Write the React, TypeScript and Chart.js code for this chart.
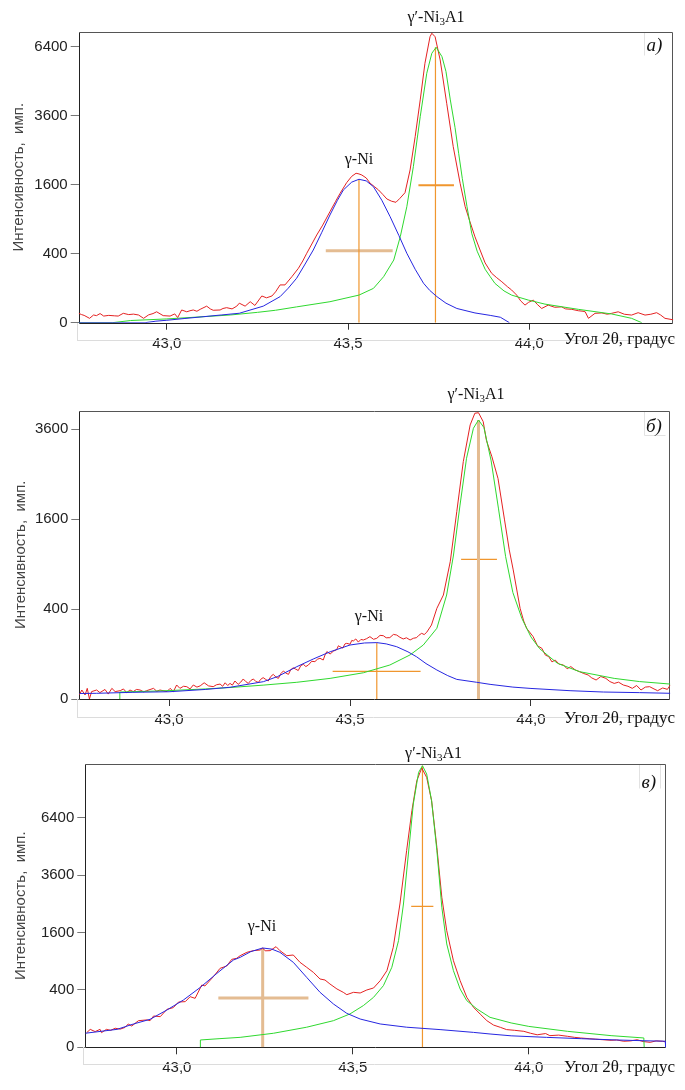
import React, { useEffect, useRef } from "react";
import { Chart, registerables } from "chart.js";

Chart.register(...registerables);

type Pt = [number, number];

// ---------- shared tick labels ----------
const xTickVals = [43.0, 43.5, 44.0];
const yTicksA = [0, 400, 1600, 3600, 6400];
const yTicksB = [0, 400, 1600, 3600];
const yTicksC = [0, 400, 1600, 3600, 6400];

const yTitle = "Интенсивность,  имп.";
const xTitle = "Угол 2θ, градус";
const peakNames = ["γ-Ni", "γ′-Ni"];

// ---------- panel а) ----------
const aRed: Pt[] = [
  [42.757, 7.4], [42.765, 5.5], [42.772, 4.5], [42.787, 1.6], [42.798, 5], [42.806, 4.2], [42.816, 7],
  [42.826, 3.7], [42.84, 4.5], [42.855, 4], [42.866, 3.7], [42.88, 7.4], [42.895, 5.5], [42.908, 6.2],
  [42.922, 5], [42.936, 1.6], [42.95, 5.2], [42.962, 7], [42.972, 10], [42.99, 4.2], [43.009, 3.7],
  [43.022, 6.5], [43.03, 2.2], [43.041, 13.6], [43.055, 10], [43.064, 12], [43.073, 13.6], [43.083, 11],
  [43.092, 15], [43.11, 23], [43.12, 16], [43.128, 13], [43.147, 13.6], [43.155, 17], [43.165, 19],
  [43.18, 16], [43.193, 23], [43.2, 32], [43.216, 23], [43.23, 37], [43.243, 25], [43.262, 60],
  [43.275, 52], [43.29, 60], [43.3, 80], [43.3125, 120], [43.326, 120], [43.345, 178], [43.363, 249],
  [43.375, 320], [43.386, 405], [43.4, 520], [43.4135, 646], [43.43, 800], [43.45, 1036], [43.465, 1230],
  [43.478, 1407], [43.496, 1647], [43.51, 1800], [43.522, 1876], [43.53, 1860], [43.538, 1832],
  [43.55, 1760], [43.561, 1633], [43.572, 1560], [43.584, 1480], [43.596, 1380], [43.607, 1286],
  [43.62, 1240], [43.632, 1218], [43.643, 1300], [43.657, 1420], [43.671, 1960], [43.685, 2908],
  [43.699, 4170], [43.712, 5655], [43.726, 6873], [43.731, 7040], [43.74, 6870], [43.754, 5800],
  [43.772, 4045], [43.79, 2605], [43.809, 1633], [43.823, 1130], [43.836, 860], [43.85, 620],
  [43.864, 444], [43.878, 300], [43.896, 205], [43.91, 170], [43.924, 141], [43.94, 108], [43.951, 90],
  [43.965, 64], [43.976, 40], [43.988, 26], [43.998, 35], [44.011, 43], [44.022, 28], [44.034, 17],
  [44.052, 26], [44.07, 20], [44.089, 21], [44.1, 16], [44.117, 15], [44.135, 12], [44.148, 11],
  [44.154, 10], [44.163, 1.6], [44.181, 7.4], [44.2, 8], [44.215, 6], [44.227, 7.4], [44.245, 10],
  [44.262, 6], [44.282, 4.9], [44.3, 8.4], [44.319, 4.9], [44.335, 6], [44.351, 8.4], [44.362, 5],
  [44.374, 1.6], [44.397, 0.7],
];
const aBlue: Pt[] = [
  [42.757, 0], [42.94, 0], [42.97, 0.2], [43.0, 0.5], [43.05, 1.5], [43.1, 3], [43.15, 5], [43.2, 7.5],
  [43.266, 23], [43.3125, 57], [43.335, 100], [43.358, 166], [43.38, 280], [43.404, 444], [43.427, 680],
  [43.45, 975], [43.47, 1250], [43.487, 1480], [43.51, 1660], [43.53, 1728], [43.55, 1690], [43.57, 1554],
  [43.593, 1260], [43.616, 944], [43.64, 640], [43.662, 405], [43.685, 240], [43.708, 131], [43.725, 88],
  [43.745, 57], [43.77, 32], [43.8, 17], [43.85, 8], [43.892, 4.5], [43.92, 2.5], [43.945, 0],
];
const aGreen: Pt[] = [
  [42.757, 0], [42.85, 0], [42.9, 0.4], [43.0, 1.2], [43.1, 3], [43.175, 5], [43.25, 9], [43.3, 13],
  [43.358, 21], [43.45, 37], [43.53, 64], [43.57, 99], [43.598, 178], [43.626, 330], [43.644, 622],
  [43.662, 1130], [43.68, 2045], [43.699, 3566], [43.717, 5227], [43.731, 6100], [43.743, 6373],
  [43.759, 5945], [43.77, 5300], [43.782, 4170], [43.795, 3200], [43.805, 2411], [43.815, 1750],
  [43.828, 1130], [43.841, 672], [43.856, 430], [43.878, 240], [43.892, 178], [43.905, 130], [43.93, 85],
  [43.951, 64], [43.997, 43], [44.043, 29], [44.135, 15], [44.227, 6.4], [44.282, 1.6], [44.31, 0],
];
const aPeakX = [43.53, 43.741];
const aPeakY = [1728, 6373];
const aHalfY = [436, 1590];
const aHalfFrom = [43.4385, 43.694];
const aHalfTo = [43.623, 43.792];

// ---------- panel б) ----------
const bRed: Pt[] = [
  [42.752, 0.8], [42.759, 4], [42.768, 0.8], [42.774, 5.6], [42.78, 0], [42.786, 2.7], [42.8, 4],
  [42.809, 2], [42.823, 4.5], [42.832, 1.2], [42.842, 5.6], [42.851, 2.7], [42.865, 3.4], [42.874, 5],
  [42.883, 2], [42.892, 4], [42.901, 2.7], [42.91, 4.5], [42.92, 4], [42.93, 2.5], [42.938, 3.4],
  [42.957, 5.6], [42.966, 3], [42.975, 4], [42.994, 2.7], [43.003, 5.6], [43.012, 2.7], [43.021, 9.7],
  [43.03, 5.6], [43.04, 8], [43.049, 7.5], [43.058, 5], [43.067, 9.7], [43.077, 7], [43.086, 8.5],
  [43.097, 13], [43.109, 8.5], [43.122, 7.5], [43.131, 10], [43.141, 11], [43.148, 8], [43.155, 13],
  [43.162, 9], [43.1685, 12], [43.175, 9.5], [43.182, 16], [43.191, 10.6], [43.198, 14], [43.205, 19.8],
  [43.212, 15], [43.219, 12], [43.226, 17], [43.233, 19.8], [43.24, 15], [43.247, 13.7], [43.253, 19],
  [43.26, 22.5], [43.267, 19], [43.274, 16], [43.281, 25], [43.288, 30], [43.295, 24], [43.302, 21],
  [43.309, 32], [43.316, 38.7], [43.323, 33], [43.33, 30], [43.336, 42], [43.343, 48], [43.35, 44],
  [43.357, 40], [43.364, 55], [43.371, 59.4], [43.378, 52], [43.385, 57], [43.394, 70], [43.403, 69],
  [43.41, 78], [43.417, 82], [43.426, 75], [43.431, 96], [43.436, 111], [43.445, 100], [43.454, 113],
  [43.463, 120], [43.468, 140], [43.472, 135], [43.48, 128], [43.486, 150], [43.491, 153], [43.5, 148],
  [43.505, 170], [43.509, 166], [43.516, 178], [43.523, 160], [43.53, 175], [43.537, 172], [43.546, 180],
  [43.555, 192], [43.565, 176], [43.574, 182], [43.583, 200], [43.592, 198], [43.6, 185], [43.61, 186],
  [43.62, 206], [43.629, 202], [43.638, 188], [43.647, 178], [43.656, 185], [43.666, 172], [43.675, 182],
  [43.684, 186], [43.69, 200], [43.698, 213], [43.705, 205], [43.712, 220], [43.725, 270], [43.74, 406],
  [43.758, 534], [43.777, 932], [43.795, 1733], [43.813, 2783], [43.832, 3710], [43.845, 4033],
  [43.855, 4048], [43.868, 3800], [43.877, 3300], [43.892, 2900], [43.909, 2400], [43.927, 1584],
  [43.94, 1100], [43.951, 823], [43.97, 406], [43.98, 300], [43.988, 247], [44.006, 192], [44.018, 140],
  [44.03, 127], [44.04, 95], [44.049, 89], [44.058, 68], [44.067, 75], [44.078, 60], [44.09, 57],
  [44.1, 45], [44.11, 52], [44.122, 42], [44.134, 37], [44.146, 32], [44.158, 28.5], [44.168, 22],
  [44.18, 17.8], [44.193, 25], [44.207, 21], [44.218, 15], [44.23, 12], [44.242, 14], [44.255, 9.7],
  [44.268, 8], [44.28, 5.6], [44.292, 9], [44.304, 4], [44.316, 7], [44.328, 7.5], [44.34, 5],
  [44.35, 3.4], [44.364, 6], [44.377, 4.6], [44.385, 9.7],
];
const bBlue: Pt[] = [
  [42.752, 1.5], [42.8, 1.6], [42.9, 2.2], [43.0, 2.6], [43.1, 4.5], [43.1685, 6.8], [43.2605, 14.8],
  [43.3, 25], [43.353, 51.6], [43.4, 80], [43.445, 110], [43.5, 144], [43.54, 155], [43.574, 157],
  [43.6, 150], [43.629, 135], [43.66, 110], [43.684, 88], [43.71, 62], [43.74, 41.5], [43.77, 27],
  [43.795, 19], [43.85, 13.8], [43.887, 10.6], [43.95, 7], [44.0, 5.5], [44.108, 3.4], [44.2, 2.4],
  [44.3, 2], [44.385, 1.6],
];
const bGreen: Pt[] = [
  [42.863, 0], [42.864, 2.4], [42.95, 3], [43.0, 3.5], [43.1, 5], [43.1685, 6.5], [43.26, 9.5],
  [43.353, 13.8], [43.445, 21], [43.537, 34], [43.61, 57], [43.666, 96], [43.7025, 144], [43.74, 247],
  [43.767, 534], [43.786, 1024], [43.804, 1858], [43.822, 2862], [43.841, 3620], [43.855, 3844],
  [43.87, 3640], [43.89, 2800], [43.91, 1800], [43.93, 1000], [43.95, 560], [43.975, 320], [44.0, 190],
  [44.024, 125], [44.073, 63], [44.134, 37], [44.23, 21], [44.3, 15], [44.385, 11],
];
const bPeakX = [43.574, 43.855];
const bPeakY = [157, 3844];
const bHalfY = [37.9, 963];
const bHalfFrom = [43.452, 43.807];
const bHalfTo = [43.695, 43.906];

// ---------- panel в) ----------
const cRed: Pt[] = [
  [42.744, 26], [42.754, 39], [42.768, 30], [42.782, 39], [42.786, 26], [42.8, 39], [42.812, 35],
  [42.825, 44], [42.839, 40], [42.853, 48], [42.862, 66], [42.872, 55], [42.891, 86], [42.915, 91],
  [42.924, 86], [42.934, 119], [42.953, 114], [42.972, 175], [42.99, 191], [43.005, 249], [43.024, 253],
  [43.038, 311], [43.052, 291], [43.071, 471], [43.08, 457], [43.104, 606], [43.123, 757], [43.142, 802],
  [43.156, 939], [43.17, 961], [43.18, 1019], [43.199, 1095], [43.218, 1134], [43.237, 1149],
  [43.244, 1197], [43.251, 1130], [43.265, 1134], [43.282, 1229], [43.293, 1134], [43.3125, 1019],
  [43.331, 1034], [43.35, 877], [43.369, 777], [43.388, 682], [43.407, 566], [43.421, 550], [43.435, 487],
  [43.455, 413], [43.473, 367], [43.483, 336], [43.502, 367], [43.521, 358], [43.54, 399], [43.559, 427],
  [43.578, 539], [43.597, 713], [43.615, 1213], [43.634, 2492], [43.653, 4692], [43.668, 6795],
  [43.682, 8630], [43.696, 9467], [43.71, 8840], [43.724, 7380], [43.739, 4852], [43.753, 2730],
  [43.767, 1650], [43.786, 910], [43.805, 539], [43.824, 303], [43.843, 194], [43.862, 134], [43.881, 86],
  [43.9, 60], [43.92, 48], [43.937, 38], [43.96, 35], [43.986, 31], [44.005, 24], [44.024, 19],
  [44.048, 23], [44.06, 16.5], [44.085, 18], [44.11, 14.7], [44.13, 12], [44.147, 10.6], [44.172, 9],
  [44.19, 8], [44.21, 7], [44.234, 5.9], [44.25, 6.5], [44.27, 4.4], [44.29, 5], [44.308, 7],
  [44.325, 4], [44.345, 3], [44.362, 5], [44.38, 4.4], [44.39, 3.5],
];
const cBlue: Pt[] = [
  [42.74, 24], [42.83, 39], [42.877, 66], [42.924, 95], [42.972, 169], [43.019, 272], [43.067, 437],
  [43.114, 664], [43.161, 925], [43.18, 982], [43.21, 1110], [43.244, 1197], [43.27, 1170],
  [43.293, 1095], [43.331, 877], [43.369, 594], [43.407, 367], [43.445, 228], [43.483, 140],
  [43.521, 97], [43.578, 66], [43.653, 49], [43.748, 38], [43.843, 27], [43.89, 21.5], [43.95, 16],
  [44.05, 12], [44.15, 9], [44.25, 6.5], [44.33, 5.2], [44.388, 4.5], [44.389, 0],
];
const cGreen: Pt[] = [
  [43.066, 0], [43.067, 6.5], [43.12, 9], [43.18, 12], [43.275, 24], [43.369, 49], [43.445, 86],
  [43.492, 135], [43.53, 211], [43.559, 303], [43.587, 461], [43.611, 777], [43.63, 1381],
  [43.644, 2492], [43.658, 4534], [43.672, 7185], [43.687, 9170], [43.698, 9624], [43.71, 9063],
  [43.724, 7380], [43.739, 4692], [43.753, 2380], [43.767, 1296], [43.786, 713], [43.805, 413],
  [43.824, 264], [43.853, 178], [43.89, 109], [43.95, 72], [44.0, 53], [44.11, 31], [44.234, 16.5],
  [44.327, 10.6], [44.328, 0],
];
const cPeakX = [43.244, 43.698];
const cPeakY = [1197, 9624];
const cHalfY = [295, 2411];
const cHalfFrom = [43.118, 43.666];
const cHalfTo = [43.374, 43.729];

// ---------- styles ----------
const RED = "#e42222";
const BLUE = "#2626e0";
const GREEN = "#2fd82f";
const ORANGE = "#f0962e";
const TAN = "#e4bc92";
const THIN = { color: ORANGE, width: 1.2 };
const THICK = { color: TAN, width: 3 };
const MID = { color: ORANGE, width: 2 };

interface PanelCfg {
  top: number;
  height: number;
  area: { left: number; top: number; right: number; bottom: number };
  xMin: number;
  xMax: number;
  yMax: number;
  yTicks: number[];
  red: Pt[];
  blue: Pt[];
  green: Pt[];
  peakX: number[];
  peakY: number[];
  halfY: number[];
  halfFrom: number[];
  halfTo: number[];
  vStyle: { color: string; width: number }[];
  hStyle: { color: string; width: number }[];
  letter: string;
  letterPos: [number, number];
  letterBox: number[][];
  nameNi: [number, number];
  nameG: [number, number];
  yTitleX: number;
  xTitleY: number;
  faintY: number;
}

const W = 685;

const panels: PanelCfg[] = [
  {
    top: 0, height: 365,
    area: { left: 78.7, top: 31.7, right: 673.3, bottom: 322.7 },
    xMin: 42.757, xMax: 44.397, yMax: 84.35, yTicks: yTicksA,
    red: aRed, blue: aBlue, green: aGreen,
    peakX: aPeakX, peakY: aPeakY, halfY: aHalfY, halfFrom: aHalfFrom, halfTo: aHalfTo,
    vStyle: [THIN, THIN], hStyle: [THICK, MID],
    letter: "а)", letterPos: [646.5, 46], letterBox: [[644, 32, 644, 55]],
    nameNi: [359, 160], nameG: [436, 18], yTitleX: 19, xTitleY: 340, faintY: 340,
  },
  {
    top: 368, height: 372,
    area: { left: 79.3, top: 42.7, right: 670.3, bottom: 331 },
    xMin: 42.752, xMax: 44.385, yMax: 64.07, yTicks: yTicksB,
    red: bRed, blue: bBlue, green: bGreen,
    peakX: bPeakX, peakY: bPeakY, halfY: bHalfY, halfFrom: bHalfFrom, halfTo: bHalfTo,
    vStyle: [THIN, THICK], hStyle: [THIN, THIN],
    letter: "б)", letterPos: [646, 58.7], letterBox: [[643.6, 43, 643.6, 67], [643.6, 67, 665, 67]],
    nameNi: [369, 248.7], nameG: [476, 27], yTitleX: 21, xTitleY: 351, faintY: 348.5,
  },
  {
    top: 740, height: 350,
    area: { left: 85.3, top: 24, right: 666, bottom: 307.3 },
    xMin: 42.74, xMax: 44.39, yMax: 98.7, yTicks: yTicksC,
    red: cRed, blue: cBlue, green: cGreen,
    peakX: cPeakX, peakY: cPeakY, halfY: cHalfY, halfFrom: cHalfFrom, halfTo: cHalfTo,
    vStyle: [THICK, THIN], hStyle: [THICK, THIN],
    letter: "в)", letterPos: [641.5, 42.7], letterBox: [[639.3, 24, 639.3, 48], [660, 24, 660, 48]],
    nameNi: [262, 186.7], nameG: [433.6, 14], yTitleX: 21, xTitleY: 328, faintY: 324,
  },
];

const sq = (pts: Pt[]) => pts.map(([x, y]) => ({ x, y: Math.sqrt(y) }));

function curve(pts: Pt[], color: string) {
  return {
    data: sq(pts),
    borderColor: color,
    borderWidth: 1,
    pointRadius: 0,
    tension: 0,
    fill: false,
  };
}

function Panel({ cfg }: { cfg: PanelCfg }) {
  const ref = useRef<HTMLCanvasElement>(null);

  useEffect(() => {
    const canvas = ref.current;
    if (!canvas) return;
    const a = cfg.area;
    const datasets: any[] = [curve(cfg.blue, BLUE), curve(cfg.green, GREEN), curve(cfg.red, RED)];
    cfg.peakX.forEach((px, i) => {
      datasets.push({
        data: [{ x: px, y: 0 }, { x: px, y: Math.sqrt(cfg.peakY[i]) }],
        borderColor: cfg.vStyle[i].color, borderWidth: cfg.vStyle[i].width, pointRadius: 0,
      });
      datasets.push({
        data: [{ x: cfg.halfFrom[i], y: Math.sqrt(cfg.halfY[i]) }, { x: cfg.halfTo[i], y: Math.sqrt(cfg.halfY[i]) }],
        borderColor: cfg.hStyle[i].color, borderWidth: cfg.hStyle[i].width, pointRadius: 0,
      });
    });

    const drawName = (ctx: CanvasRenderingContext2D, base: string, sub: string, tail: string, cx: number, cy: number) => {
      const big = "16px 'Liberation Serif', 'Times New Roman', serif";
      const small = "11px 'Liberation Serif', 'Times New Roman', serif";
      ctx.font = big;
      const w1 = ctx.measureText(base).width;
      const w3 = ctx.measureText(tail).width;
      ctx.font = small;
      const w2 = sub ? ctx.measureText(sub).width : 0;
      let x = cx - (w1 + w2 + w3) / 2;
      ctx.textBaseline = "middle";
      ctx.textAlign = "left";
      ctx.fillStyle = "#111";
      ctx.font = big;
      ctx.fillText(base, x, cy);
      x += w1;
      if (sub) {
        ctx.font = small;
        ctx.fillText(sub, x, cy + 4);
        x += w2;
      }
      ctx.font = big;
      ctx.fillText(tail, x, cy);
    };

    const deco = {
      id: "deco",
      beforeDatasetsDraw(chart: any) {
        const ctx: CanvasRenderingContext2D = chart.ctx;
        const ca = chart.chartArea;
        ctx.save();
        ctx.strokeStyle = "#dcdcdc";
        ctx.lineWidth = 1;
        ctx.beginPath();
        ctx.moveTo(Math.round(ca.left) - 2, Math.round(cfg.faintY) + 0.5);
        ctx.lineTo(Math.round(ca.right), Math.round(cfg.faintY) + 0.5);
        ctx.moveTo(Math.round(ca.left) - 1.5, Math.round(ca.bottom));
        ctx.lineTo(Math.round(ca.left) - 1.5, Math.round(cfg.faintY));
        ctx.stroke();
        ctx.strokeStyle = "#e2e2e2";
        ctx.beginPath();
        cfg.letterBox.forEach(([x1, y1, x2, y2]) => {
          ctx.moveTo(Math.round(x1) + 0.5, Math.round(y1) + 0.5);
          ctx.lineTo(Math.round(x2) + 0.5, Math.round(y2) + 0.5);
        });
        ctx.stroke();
        const l = Math.round(ca.left) + 0.5;
        const t = Math.round(ca.top) + 0.5;
        const r = Math.round(ca.right) - 0.5;
        const b = Math.round(ca.bottom) + 0.5;
        ctx.strokeStyle = "#555";
        ctx.beginPath();
        ctx.moveTo(l, t); ctx.lineTo(r, t); ctx.lineTo(r, b);
        ctx.stroke();
        ctx.strokeStyle = "#222";
        ctx.beginPath();
        ctx.moveTo(l, t); ctx.lineTo(l, b); ctx.lineTo(r, b);
        ctx.stroke();
        ctx.restore();
      },
      afterDraw(chart: any) {
        const ctx: CanvasRenderingContext2D = chart.ctx;
        const ca = chart.chartArea;
        ctx.save();
        ctx.translate(cfg.yTitleX, (ca.top + ca.bottom) / 2);
        ctx.rotate(-Math.PI / 2);
        ctx.font = "15px 'Liberation Sans', Arial, sans-serif";
        ctx.fillStyle = "#444";
        ctx.textAlign = "center";
        ctx.textBaseline = "middle";
        ctx.fillText(yTitle, 0, 0);
        ctx.restore();

        ctx.save();
        ctx.font = "17px 'Liberation Serif', 'Times New Roman', serif";
        ctx.fillStyle = "#111";
        ctx.textAlign = "right";
        ctx.textBaseline = "middle";
        ctx.fillText(xTitle, 675, cfg.xTitleY);
        ctx.font = "italic 19px 'Liberation Serif', 'Times New Roman', serif";
        ctx.textAlign = "left";
        ctx.fillText(cfg.letter, cfg.letterPos[0], cfg.letterPos[1]);
        drawName(ctx, peakNames[0], "", "", cfg.nameNi[0], cfg.nameNi[1]);
        drawName(ctx, peakNames[1], "3", "A1", cfg.nameG[0], cfg.nameG[1]);
        ctx.restore();
      },
    };

    const tickFont = { family: "'Liberation Sans', Arial, sans-serif", size: 15 };

    const chart = new Chart(canvas, {
      type: "line",
      data: { datasets },
      options: {
        animation: false,
        responsive: false,
        events: [],
        layout: { padding: { left: 0, top: a.top, right: W - a.right, bottom: 0 } },
        plugins: { legend: { display: false }, tooltip: { enabled: false } },
        scales: {
          x: {
            type: "linear",
            min: cfg.xMin,
            max: cfg.xMax,
            afterFit: (s: any) => { s.height = cfg.height - a.bottom; },
            afterBuildTicks: (s: any) => { s.ticks = xTickVals.map((v) => ({ value: v })); },
            ticks: {
              callback: (v: any) => Number(v).toFixed(1).replace(".", ","),
              font: tickFont,
              color: "#222",
              padding: 5,
              maxRotation: 0,
              autoSkip: false,
            },
            grid: { drawOnChartArea: false, drawTicks: true, tickLength: 7, color: "#333", tickColor: "#333" },
            border: { display: false },
          },
          y: {
            type: "linear",
            min: 0,
            max: cfg.yMax,
            afterFit: (s: any) => { s.width = a.left; },
            afterBuildTicks: (s: any) => { s.ticks = cfg.yTicks.map((v) => ({ value: Math.sqrt(v) })); },
            ticks: {
              callback: (v: any) => String(Math.round(Number(v) * Number(v))),
              font: tickFont,
              color: "#222",
              padding: 3,
              autoSkip: false,
            },
            grid: { drawOnChartArea: false, drawTicks: true, tickLength: 8, color: "#777", tickColor: "#777" },
            border: { display: false },
          },
        },
      } as any,
      plugins: [deco],
    });
    return () => chart.destroy();
  }, [cfg]);

  return (
    <div style={{ position: "absolute", left: 0, top: cfg.top, width: W, height: cfg.height }}>
      <canvas ref={ref} width={W} height={cfg.height} style={{ width: W, height: cfg.height, display: "block" }} />
    </div>
  );
}

export default function App() {
  return (
    <div style={{ position: "absolute", left: 0, top: 0, width: W, height: 1090, background: "#fff" }}>
      {panels.map((p, i) => (
        <Panel key={i} cfg={p} />
      ))}
    </div>
  );
}
